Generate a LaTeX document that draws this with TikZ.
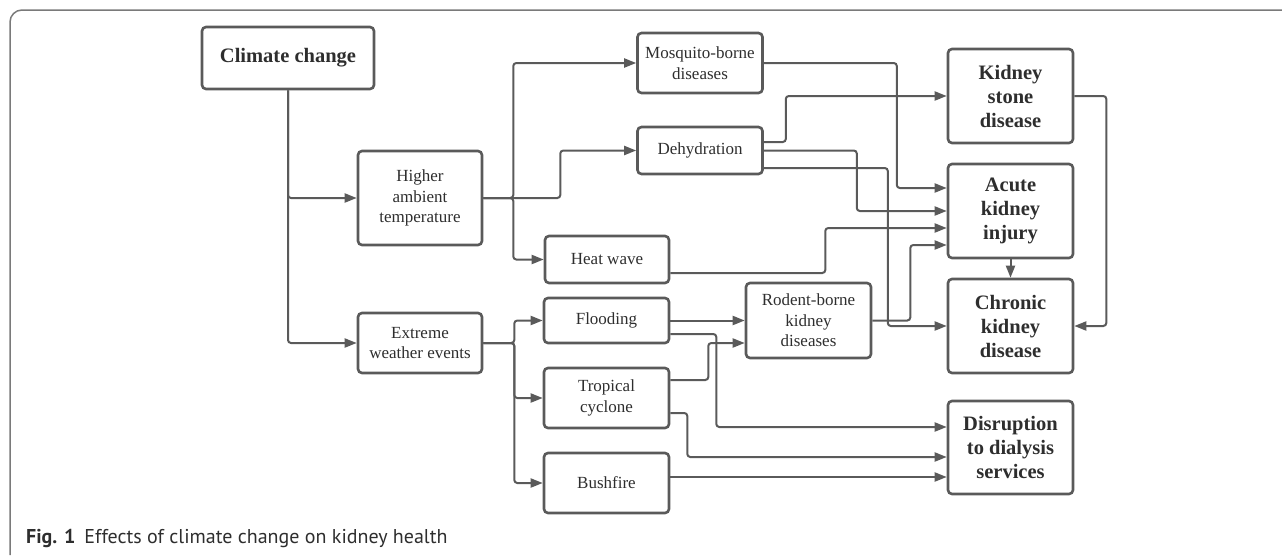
\documentclass[tikz,border=0pt]{standalone}
\usepackage{fontspec}
\setmainfont{Liberation Serif}
\newfontfamily\capfont{PT Sans}
\usetikzlibrary{arrows.meta,calc}
\definecolor{ln}{HTML}{5A5A5A}
\definecolor{tx}{HTML}{2E2E2E}
\definecolor{fr}{HTML}{7A7A7A}
\begin{document}
\begin{tikzpicture}[x=1pt,y=-1pt,
 box/.style={draw=ln, line width=2.6pt, rounded corners=4pt, align=center, text=tx, inner sep=0pt, font=\fontsize{17}{20.5}\selectfont},
 bbox/.style={box, font=\fontsize{20.5}{24}\selectfont\bfseries},
 arr/.style={draw=ln, line width=2pt, rounded corners=3pt, -{Triangle[length=12pt,width=9pt]}},
]
\useasboundingbox (0,0) rectangle (1282,555);
\draw[fr, line width=1.5pt, rounded corners=12pt] (1282,10) -- (10,10) -- (10,555);

\node[bbox, minimum width=172pt, minimum height=62pt] (cc) at (288,58) {Climate change};
\node[box, minimum width=124pt, minimum height=94pt] (hat) at (420,198) {Higher\\ambient\\temperature};
\node[box, minimum width=124pt, minimum height=60pt] (ewe) at (420,343) {Extreme\\weather events};
\node[box, minimum width=125pt, minimum height=60pt] (mos) at (700,63) {Mosquito-borne\\diseases};
\node[box, minimum width=125pt, minimum height=47pt] (deh) at (700,150.5) {Dehydration};
\node[box, minimum width=124pt, minimum height=47pt] (hw) at (607,259.5) {Heat wave};
\node[box, minimum width=125pt, minimum height=45pt] (fl) at (606.5,320.5) {Flooding};
\node[box, minimum width=125pt, minimum height=60pt] (tc) at (606.5,398) {Tropical\\cyclone};
\node[box, minimum width=125pt, minimum height=60pt] (bf) at (606.5,483) {Bushfire};
\node[box, minimum width=125pt, minimum height=75pt] (rod) at (808.5,320.5) {Rodent-borne\\kidney\\diseases};
\node[bbox, minimum width=125pt, minimum height=94pt] (ksd) at (1010.5,96) {Kidney\\stone\\disease};
\node[bbox, minimum width=125pt, minimum height=94pt] (aki) at (1010.5,211) {Acute\\kidney\\injury};
\node[bbox, minimum width=125pt, minimum height=94pt] (ckd) at (1010.5,326) {Chronic\\kidney\\disease};
\node[bbox, minimum width=125pt, minimum height=93pt] (dis) at (1010.5,447.5) {Disruption\\to dialysis\\services};

\draw[arr] (cc.south) |- (hat.west);
\draw[arr] (cc.south) |- (ewe.west);
\draw[arr] (hat.east) -- ++(30,0) |- (mos.west);
\draw[arr] (hat.east) -- ++(77,0) |- (deh.west);
\draw[arr] (hat.east) -- ++(30,0) |- (hw.west);
\draw[arr] (ewe.east) -- ++(31,0) |- (fl.west);
\draw[arr] (ewe.east) -- ++(31,0) |- (tc.west);
\draw[arr] (ewe.east) -- ++(31,0) |- (bf.west);
\draw[arr] (fl.east) -- (rod.west);
\draw[arr] ($(fl.east)+(0,13.5)$) -- ++(46,0) |- ($(dis.west)+(0,-20.5)$);
\draw[arr] ($(tc.east)+(0,-18)$) -- ++(38,0) |- ($(rod.west)+(0,22.5)$);
\draw[arr] ($(tc.east)+(0,15)$) -- ++(17,0) |- ($(dis.west)+(0,9.5)$);
\draw[arr] ($(bf.east)+(0,-6)$) -- ($(dis.west)+(0,29.5)$);
\draw[arr] (mos.east) -- ++(133,0) |- ($(aki.west)+(0,-23)$);
\draw[arr] ($(deh.east)+(0,-8.5)$) -- ++(22,0) |- (ksd.west);
\draw[arr] (deh.east) -- ++(93,0) |- (aki.west);
\draw[arr] ($(deh.east)+(0,17.5)$) -- ++(124,0) |- (ckd.west);
\draw[arr] ($(hw.east)+(0,13.5)$) -- ++(155,0) |- ($(aki.west)+(0,17)$);
\draw[arr] (rod.east) -- ++(38,0) |- ($(aki.west)+(0,34)$);
\draw[arr] (ksd.east) -- ++(32,0) |- (ckd.east);
\draw[arr] (aki.south) -- (ckd.north);

\node[anchor=base west, text=tx, inner sep=0pt, font=\capfont\fontsize{20}{22}\selectfont] (cap) at (26,543) {\textbf{Fig. 1}\hspace{0.45em}Effects of climate change on kidney health};
\end{tikzpicture}
\end{document}
